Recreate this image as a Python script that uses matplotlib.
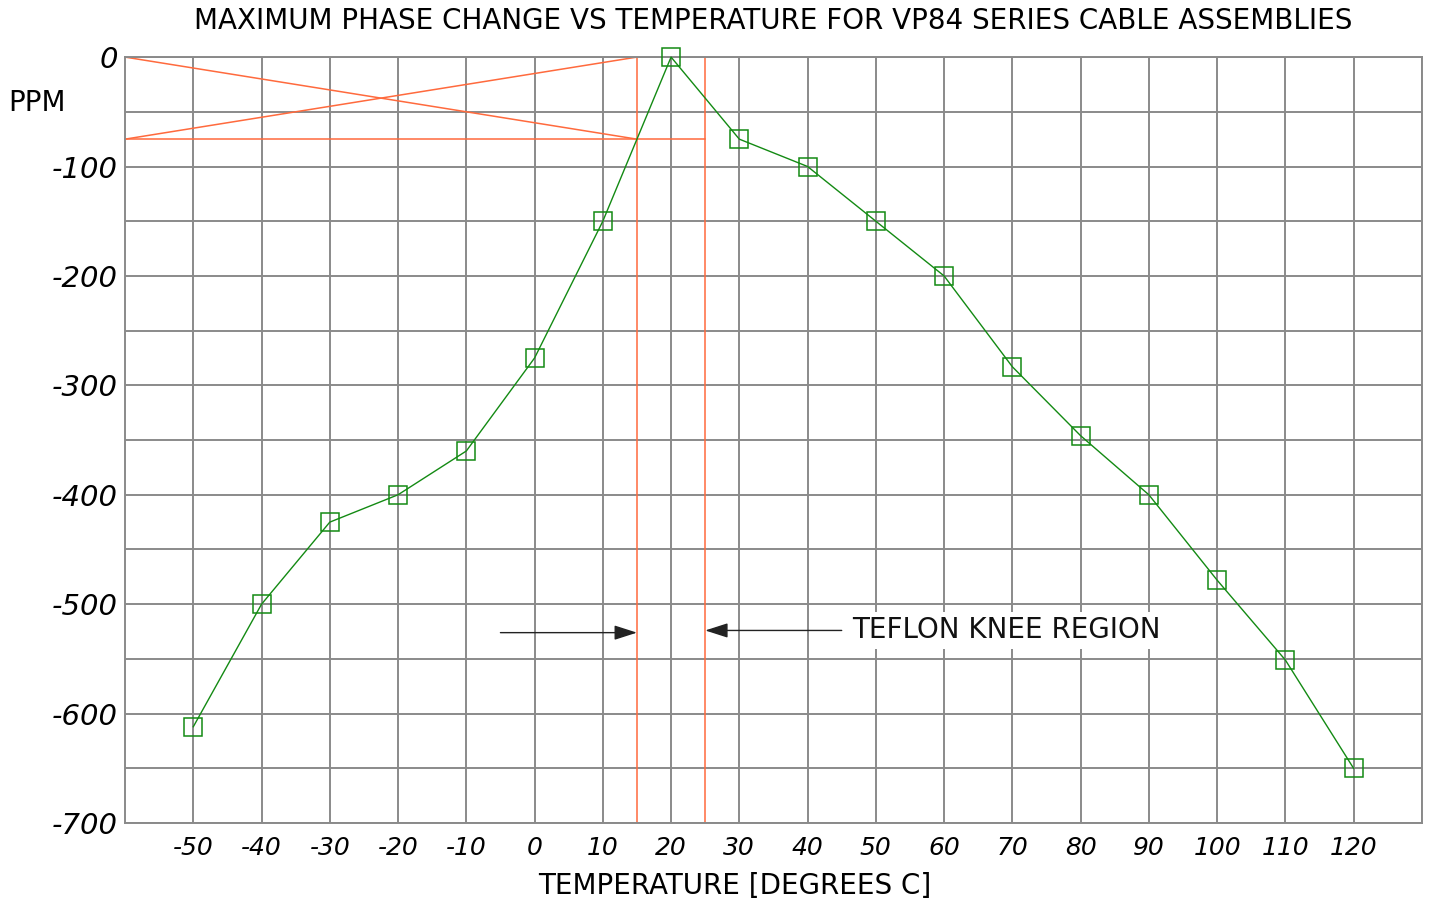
import numpy as np
import matplotlib
matplotlib.use("Agg")
import matplotlib.pyplot as plt

# ---- data ----
temps = [-50, -40, -30, -20, -10, 0, 10, 20, 30, 40, 50, 60, 70, 80, 90, 100, 110, 120]
ppm = [-612, -500, -425, -400, -360, -275, -150, 0, -75, -100, -150, -200,
       -283, -346, -400, -478, -551, -650]

x_ticks = list(range(-50, 121, 10))
y_ticks = list(range(-700, 1, 100))
knee_lo, knee_hi = 15, 25   # teflon knee region
knee_ppm = -75

plt.rcParams['font.family'] = ['DejaVu Sans']
grey = '#8a8a8a'
orange = '#ff6a3d'
green = '#138a13'

fig = plt.figure(figsize=(14.29, 8.99), dpi=100)
ax = fig.add_axes([0.0875, 0.0845, 0.9075, 0.852])

ax.set_xlim(-60, 130)
ax.set_ylim(-700, 0)

# grid
ax.set_xticks(x_ticks)
ax.set_xticks([130], minor=True)
ax.set_yticks(y_ticks)
ax.set_yticks(list(range(-650, 0, 100)), minor=True)
ax.grid(True, which='both', color=grey, lw=1.4)
ax.tick_params(which='both', length=0)
ax.set_xticklabels([str(t) for t in x_ticks], fontsize=18, style='italic')
ax.set_yticklabels([str(t) for t in y_ticks], fontsize=21, style='italic')
ax.tick_params(axis='x', pad=9)
ax.tick_params(axis='y', pad=5)
for s in ax.spines.values():
    s.set_color(grey)
    s.set_linewidth(1.4)

# knee region construction lines
ax.plot([-60, knee_hi], [knee_ppm, knee_ppm], color=orange, lw=1.1, clip_on=False)
ax.plot([knee_lo, knee_lo], [0, -700], color=orange, lw=1.1)
ax.plot([knee_hi, knee_hi], [0, -700], color=orange, lw=1.1)
ax.plot([-60, knee_lo], [0, knee_ppm], color=orange, lw=1.1)
ax.plot([-60, knee_lo], [knee_ppm, 0], color=orange, lw=1.1)

# data
ax.plot(temps, ppm, color=green, lw=1.0, marker='s', markersize=13,
        markerfacecolor='none', markeredgecolor=green, markeredgewidth=1.1,
        clip_on=False, zorder=5)

# arrows + label
ax.annotate('', xy=(knee_lo, -526), xytext=(-5, -526),
            arrowprops=dict(arrowstyle='-|>,head_length=1.4,head_width=0.45',
                            color='#222222', lw=1.0, shrinkA=0, shrinkB=0))
ax.annotate('', xy=(knee_hi, -524), xytext=(45, -524),
            arrowprops=dict(arrowstyle='-|>,head_length=1.4,head_width=0.45',
                            color='#222222', lw=1.0, shrinkA=0, shrinkB=0))
ax.text(46.5, -524, 'TEFLON KNEE REGION', fontsize=20, va='center', ha='left',
        color='#111111', bbox=dict(facecolor='white', edgecolor='none', pad=3))

fig.text(0.541, 0.977, 'MAXIMUM PHASE CHANGE VS TEMPERATURE FOR VP84 SERIES CABLE ASSEMBLIES',
         ha='center', va='center', fontsize=20)
fig.text(0.006, 0.885, 'PPM', ha='left', va='center', fontsize=20)
fig.text(0.514, 0.015, 'TEMPERATURE [DEGREES C]', ha='center', va='center', fontsize=20)

fig.savefig('out.png', dpi=100)
